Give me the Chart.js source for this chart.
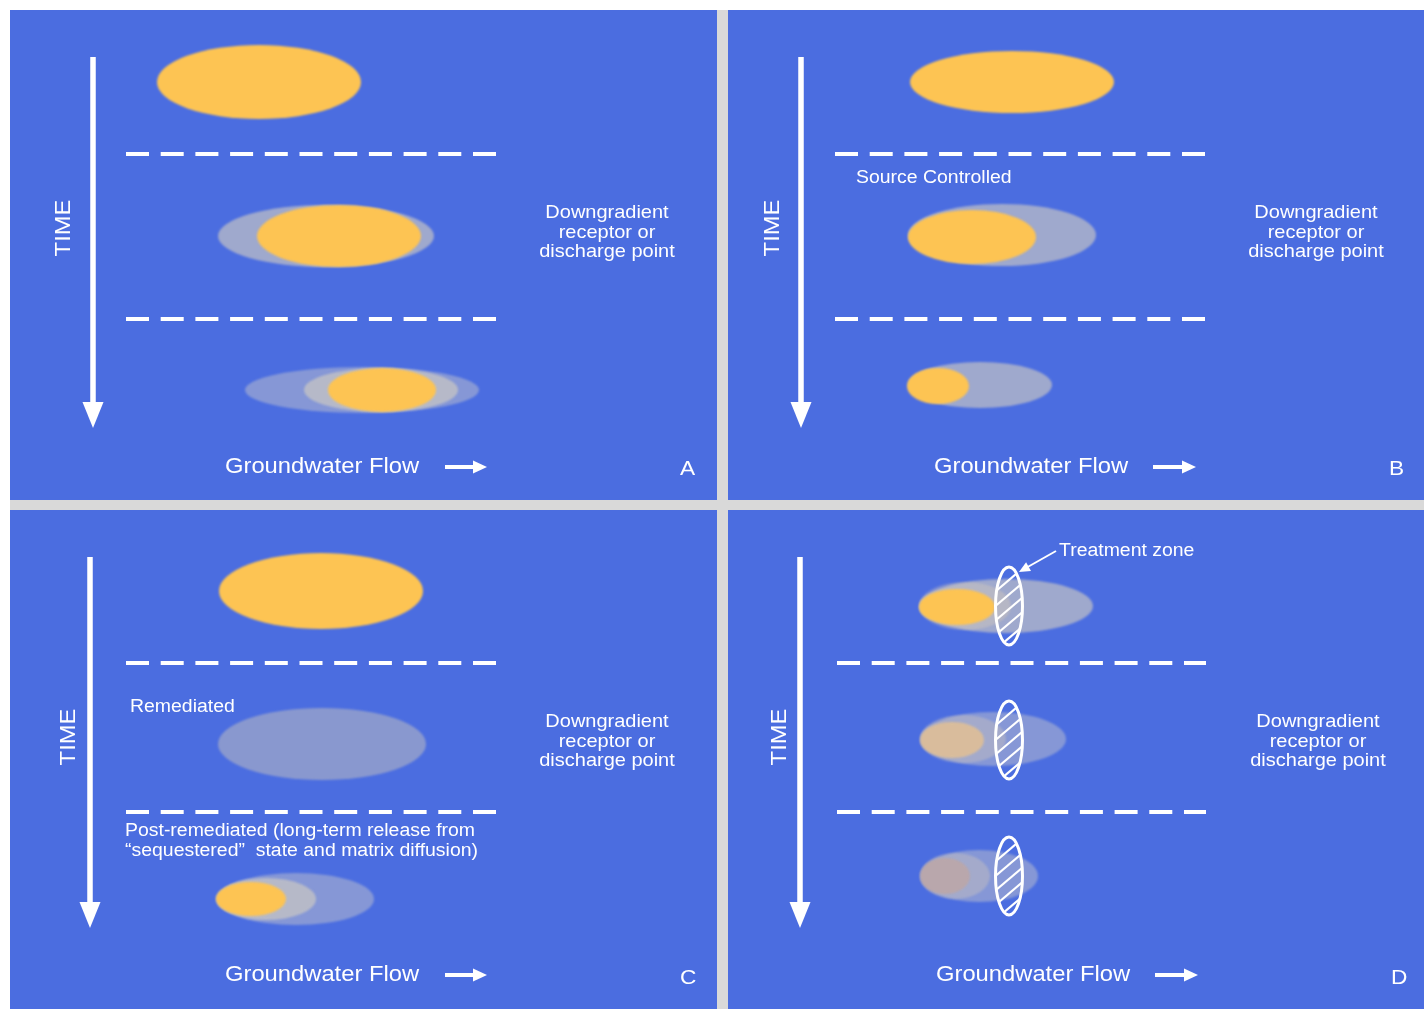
<!DOCTYPE html>
<html>
<head>
<meta charset="utf-8">
<script src="https://cdn.jsdelivr.net/npm/chart.js@4.4.1/dist/chart.umd.min.js"></script>
<style>
body { margin: 0; background: #ffffff; }
#wrap { position: absolute; left: 10px; top: 10px; width: 1414px; height: 999px; background: #d9d9d9; }
.panel { position: absolute; background: #4b6de0; }
</style>
</head>
<body>
<div id="wrap">
  <canvas id="pA" class="panel" width="707" height="490" style="left:0px;top:0px"></canvas>
  <canvas id="pB" class="panel" width="696" height="490" style="left:718px;top:0px"></canvas>
  <canvas id="pC" class="panel" width="707" height="499" style="left:0px;top:500px"></canvas>
  <canvas id="pD" class="panel" width="696" height="499" style="left:718px;top:500px"></canvas>
</div>
<script>
// plumes: [distance, time, half-length, half-width, kind]
const plumesA = [
    [249, 72, 102, 37, 'source'],
    [316, 226, 108, 31, 'halo'],
    [329, 226, 82, 31, 'source'],
    [352, 380, 117, 23, 'faint'],
    [371, 380, 77, 22, 'halo'],
    [372, 380, 54, 22, 'source']
]
const plumesB = [
    [284, 72, 102, 31, 'source'],
    [274, 225, 94, 31, 'halo'],
    [244, 227, 64, 27, 'source'],
    [252, 375, 72, 23, 'halo'],
    [210, 376, 31, 18, 'source']
]
const plumesC = [
    [311, 81, 102, 38, 'source'],
    [312, 234, 104, 36, 'remediated'],
    [286, 389, 78, 26, 'faint'],
    [256, 389, 50, 21, 'halo'],
    [241, 389, 35, 17, 'source']
]
const plumesD = [
    [278, 96, 87, 27, 'halo'],
    [237, 96, 46, 24, 'light'],
    [229, 97, 38, 18, 'source'],
    [265, 229, 73, 27, 'faint'],
    [235, 229, 43, 24, 'light'],
    [224, 230, 32, 18, 'muted'],
    [251, 366, 59, 26, 'faint'],
    [227, 366, 35, 23, 'light'],
    [217, 366, 25, 18, 'brown']
]
// treatment zones (panel D): [distance, time]
const zonesD = [[281, 96], [281, 230], [281, 366]]
const zoneHalf = [13.5, 39]

// time step boundaries (dashed lines)
const breaksA = [144, 309]
const breaksB = [144, 309]
const breaksC = [153, 302]
const breaksD = [153, 302]

const receptorText = ['Downgradient', 'receptor or', 'discharge point']

var kindColor = {
    source: '#fdc453',
    halo: 'rgba(215,208,192,0.6)',
    faint: 'rgba(215,210,200,0.42)',
    remediated: 'rgba(200,195,190,0.5)',
    light: 'rgba(235,215,180,0.3)',
    muted: 'rgba(235,195,140,0.75)',
    brown: 'rgba(200,165,150,0.6)'
}

var FONT = '"Liberation Sans", Arial, sans-serif'
var STRETCH = 1.08

var panels = [
    {id: 'pA', w: 707, h: 490, plumes: plumesA, breaks: breaksA, dashFrom: 116, dashTo: 486,
     timeX: 83, timeTop: 47, timeTip: 418, timeLabel: [54, 218],
     recv: [597, 203], flow: [215, 457, 435, 477], letter: ['A', 677, 459], notes: []},
    {id: 'pB', w: 696, h: 490, plumes: plumesB, breaks: breaksB, dashFrom: 107, dashTo: 477,
     timeX: 73, timeTop: 47, timeTip: 418, timeLabel: [45, 218],
     recv: [588, 203], flow: [206, 457, 425, 468], letter: ['B', 668, 459],
     notes: [['Source Controlled', 128, 168]]},
    {id: 'pC', w: 707, h: 499, plumes: plumesC, breaks: breaksC, dashFrom: 116, dashTo: 486,
     timeX: 80, timeTop: 47, timeTip: 418, timeLabel: [59, 227],
     recv: [597, 212], flow: [215, 465, 435, 477], letter: ['C', 677, 468],
     notes: [['Remediated', 120, 197],
             ['Post-remediated (long-term release from', 115, 321],
             ['\u201csequestered\u201d  state and matrix diffusion)', 115, 341]]},
    {id: 'pD', w: 696, h: 499, plumes: plumesD, breaks: breaksD, dashFrom: 109, dashTo: 478,
     timeX: 72, timeTop: 47, timeTip: 418, timeLabel: [52, 227],
     recv: [590, 212], flow: [208, 465, 427, 470], letter: ['D', 670, 468],
     notes: [['Treatment zone', 331, 41]], zones: zonesD, leader: [328, 41, 291, 62]}
]

function arrowHead(ctx, x1, y1, x2, y2, len, half)
{
    var a = Math.atan2(y2 - y1, x2 - x1);
    ctx.beginPath();
    ctx.moveTo(x2, y2);
    ctx.lineTo(x2 - len * Math.cos(a) + half * Math.sin(a), y2 - len * Math.sin(a) - half * Math.cos(a));
    ctx.lineTo(x2 - len * Math.cos(a) - half * Math.sin(a), y2 - len * Math.sin(a) + half * Math.cos(a));
    ctx.closePath();
    ctx.fill();
}

// text drawn a little wider than the font, like the original artwork
function wideText(ctx, t, x, y, align)
{
    ctx.save();
    ctx.translate(x, y);
    ctx.scale(STRETCH, 1);
    ctx.textAlign = align;
    ctx.fillText(t, 0, 0);
    ctx.restore();
}

function makePanel(p)
{
    var datasets = [];
    p.breaks.forEach(function(y) {
        datasets.push({data: [{x: p.dashFrom, y: y}, {x: p.dashTo, y: y}], showLine: true,
            borderColor: '#ffffff', borderWidth: 4, borderDash: [23, 11.7], pointRadius: 0});
    });
    // time arrow shaft
    datasets.push({data: [{x: p.timeX, y: p.timeTop}, {x: p.timeX, y: p.timeTip - 20}], showLine: true,
        borderColor: '#ffffff', borderWidth: 5.5, pointRadius: 0});
    // flow arrow shaft
    datasets.push({data: [{x: p.flow[2], y: p.flow[1]}, {x: p.flow[3] - 8, y: p.flow[1]}], showLine: true,
        borderColor: '#ffffff', borderWidth: 4, pointRadius: 0});
    // plume centres
    datasets.push({data: p.plumes.map(function(d) { return {x: d[0], y: d[1]}; }), pointRadius: 0});

    var drawing = {
        id: 'drawing',
        beforeDatasetsDraw: function(chart) {
            var ctx = chart.ctx, xs = chart.scales.x, ys = chart.scales.y;
            ctx.save();
            ctx.filter = 'blur(0.8px)';
            p.plumes.forEach(function(d) {
                var cx = xs.getPixelForValue(d[0]), cy = ys.getPixelForValue(d[1]);
                var rx = xs.getPixelForValue(d[0] + d[2]) - cx;
                var ry = Math.abs(ys.getPixelForValue(d[1] + d[3]) - cy);
                ctx.beginPath();
                ctx.ellipse(cx, cy, rx, ry, 0, 0, Math.PI * 2);
                ctx.fillStyle = kindColor[d[4]];
                ctx.fill();
            });
            ctx.restore();
        },
        afterDatasetsDraw: function(chart) {
            var ctx = chart.ctx, xs = chart.scales.x, ys = chart.scales.y;
            var px = function(v) { return xs.getPixelForValue(v); };
            var py = function(v) { return ys.getPixelForValue(v); };
            ctx.save();
            ctx.fillStyle = '#ffffff';
            ctx.strokeStyle = '#ffffff';

            // arrow heads
            arrowHead(ctx, px(p.timeX), py(p.timeTop), px(p.timeX), py(p.timeTip), 26, 10.5);
            arrowHead(ctx, px(p.flow[2]), py(p.flow[1]), px(p.flow[3]), py(p.flow[1]), 14, 6.5);

            // treatment zones
            if (p.zones) {
                p.zones.forEach(function(z) {
                    var cx = px(z[0]), cy = py(z[1]);
                    var rx = px(z[0] + zoneHalf[0]) - cx, ry = Math.abs(py(z[1] + zoneHalf[1]) - cy);
                    ctx.save();
                    ctx.beginPath();
                    ctx.ellipse(cx, cy, rx, ry, 0, 0, Math.PI * 2);
                    ctx.clip();
                    ctx.lineWidth = 2.2;
                    for (var k = -4; k <= 4; k++) {
                        var oy = cy + k * 14.5 + 3;
                        ctx.beginPath();
                        ctx.moveTo(cx - 20, oy + 17);
                        ctx.lineTo(cx + 20, oy - 17);
                        ctx.stroke();
                    }
                    ctx.restore();
                    ctx.beginPath();
                    ctx.ellipse(cx, cy, rx, ry, 0, 0, Math.PI * 2);
                    ctx.lineWidth = 3;
                    ctx.stroke();
                });
            }
            if (p.leader) {
                var l = p.leader;
                ctx.lineWidth = 2;
                ctx.beginPath();
                ctx.moveTo(px(l[0]), py(l[1]));
                ctx.lineTo(px(l[2]) + 6, py(l[3]) - 3.5);
                ctx.stroke();
                arrowHead(ctx, px(l[0]), py(l[1]), px(l[2]), py(l[3]), 11, 5);
            }

            // texts
            ctx.textBaseline = 'middle';
            ctx.save();
            ctx.translate(px(p.timeLabel[0]), py(p.timeLabel[1]));
            ctx.rotate(-Math.PI / 2);
            ctx.font = '22px ' + FONT;
            wideText(ctx, 'TIME', 0, 0, 'center');
            ctx.restore();

            ctx.font = '18.5px ' + FONT;
            receptorText.forEach(function(t, i) {
                wideText(ctx, t, px(p.recv[0]), py(p.recv[1] + i * 19.5), 'center');
            });

            ctx.font = '22px ' + FONT;
            wideText(ctx, 'Groundwater Flow', px(p.flow[0]), py(p.flow[1]), 'left');
            ctx.font = '21px ' + FONT;
            wideText(ctx, p.letter[0], px(p.letter[1]) - 7, py(p.letter[2]), 'left');

            ctx.font = '18px ' + FONT;
            p.notes.forEach(function(n) {
                wideText(ctx, n[0], px(n[1]), py(n[2]), 'left');
            });
            ctx.restore();
        }
    };

    return new Chart(document.getElementById(p.id), {
        type: 'scatter',
        data: {datasets: datasets},
        options: {
            responsive: false,
            animation: false,
            devicePixelRatio: 1,
            layout: {padding: 0},
            plugins: {legend: {display: false}, tooltip: {enabled: false}},
            scales: {
                x: {type: 'linear', min: 0, max: p.w, display: false},
                y: {type: 'linear', min: 0, max: p.h, reverse: true, display: false}
            }
        },
        plugins: [drawing]
    });
}

var chartList = [];
for (let i = 0; i < panels.length; i++)
{
    chartList.push(makePanel(panels[i]));
}
</script>
</body>
</html>
